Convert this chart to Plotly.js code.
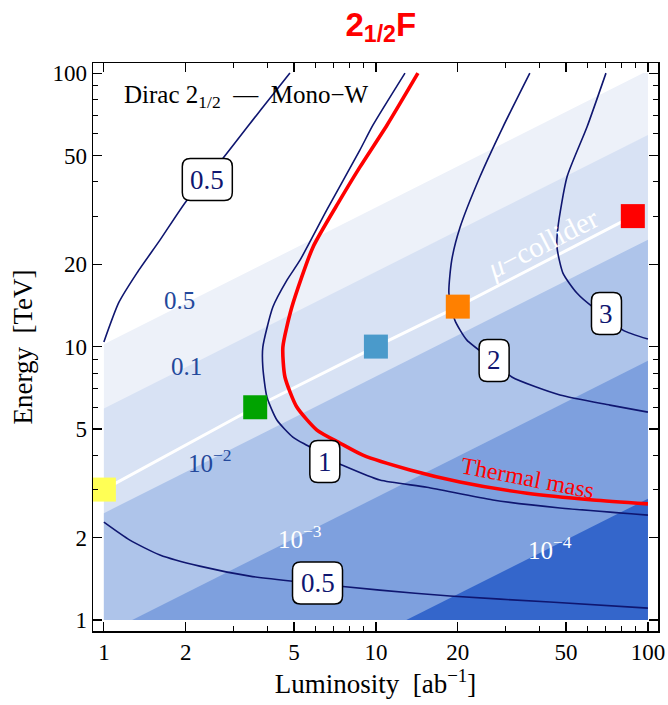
<!DOCTYPE html>
<html><head><meta charset="utf-8">
<script src="https://cdn.plot.ly/plotly-3.0.1.min.js"></script>
<style>html,body{margin:0;padding:0;background:#fff}#chart{width:668px;height:705px}</style>
</head><body><div id="chart"></div>
<script>
// ---------- data ----------
const tickVals = [1, 2, 5, 10, 20, 50, 100];
const tickText = ['1', '2', '5', '10', '20', '50', '100'];
const minorTickVals = [3, 4, 6, 7, 8, 9, 30, 40, 60, 70, 80, 90];

// shaded band boundaries (straight in log-log): energy at L=1 and at L=100
const bandNames = ['0.5', '0.1', '10<sup>−2</sup>', '10<sup>−3</sup>', '10<sup>−4</sup>'];
const bandEdgeAtL1 = [10.2, 5.94, 2.46, 0.887, 0.278];
const bandEdgeAtL100 = [102, 59.4, 24.6, 8.87, 2.78];
const bandLabelL = [1.90, 2.02, 2.45, 5.26, 43.6];
const bandLabelE = [14.8, 8.49, 3.81, 2.01, 1.83];

// contour lines (luminosity, energy)
const c05TopL = [4.83, 3.84, 2.45, 2.02, 1.607, 1.322, 1.135, 1.0];
const c05TopE = [100, 75.1, 42.4, 34.3, 24.5, 18.57, 14.5, 10.4];
const c1L = [12.79, 9.75, 8.73, 6.60, 5.26, 4.71, 4.18, 3.84, 3.84, 3.975, 4.325, 4.95, 5.72, 6.49, 7.50, 10.34, 15.40, 26.92, 47.5, 100];
const c1E = [100, 64.5, 52.3, 31.6, 20.7, 17.5, 13.95, 9.96, 8.41, 6.54, 5.39, 4.67, 4.29, 3.94, 3.69, 3.25, 3.06, 2.75, 2.57, 2.42];
const c2L = [36.8, 29.3, 24.1, 20.4, 19.0, 18.55, 19.5, 21.6, 27.4, 31.6, 47.5, 72.5, 100];
const c2E = [100, 63.5, 41.7, 27.35, 20.7, 15.7, 12.5, 10.56, 8.78, 7.74, 6.65, 6.11, 5.76];
const c3L = [70.1, 59.7, 50.4, 46.7, 46.3, 48.7, 54.8, 62.8, 70.7, 80.9, 100];
const c3E = [100, 63.5, 41.7, 27.35, 23.1, 18.57, 15.7, 13.95, 12.93, 11.49, 10.65];
const c05BotL = [1.0, 1.246, 1.607, 2.25, 3.44, 5.26, 10.34, 18.71, 43.6, 100];
const c05BotE = [2.28, 1.96, 1.73, 1.575, 1.448, 1.377, 1.287, 1.224, 1.164, 1.106];
// thermal mass
const thermalL = [14.27, 10.98, 8.73, 7.37, 5.87, 4.91, 4.55, 4.63, 5.12, 6.07, 7.37, 8.96, 13.34, 20.36, 35.9, 62.8, 100];
const thermalE = [100, 64.5, 45.3, 34.3, 23.1, 13.95, 9.96, 7.74, 6.01, 4.95, 4.44, 4.01, 3.54, 3.20, 2.91, 2.75, 2.66];

// contour labels
const contourText = ['0.5', '1', '2', '3', '0.5'];
const contourLabelL = [2.40, 6.49, 27.2, 70.4, 6.10];
const contourLabelE = [40.8, 3.80, 8.90, 13.2, 1.366];

// muon-collider benchmark points
const colliderL = [1, 3.6, 10, 20, 88];
const colliderE = [3, 6, 10, 14, 30];
const colliderColors = ['#ffff55', '#00a300', '#4a9acb', '#ff8000', '#ff0000'];

// ---------- styling ----------
const bandColors = ['#edf1f9', '#d8e2f4', '#aec4ea', '#7ea0de', '#3466cb'];
const NAVY = '#0f1670';
const XR = [-0.04, 2.037], YR = [-0.04, 2.037];
const xp = L => (Math.log10(L) - XR[0]) / (XR[1] - XR[0]);
const yp = E => (Math.log10(E) - YR[0]) / (YR[1] - YR[0]);

// clip polygon (log space) to the data box [0,2]x[0,2]
function clip(poly) {
  const edges = [
    [p => p[0] >= 0, (a, b) => { const t = (0 - a[0]) / (b[0] - a[0]); return [0, a[1] + t * (b[1] - a[1])]; }],
    [p => p[0] <= 2, (a, b) => { const t = (2 - a[0]) / (b[0] - a[0]); return [2, a[1] + t * (b[1] - a[1])]; }],
    [p => p[1] >= 0, (a, b) => { const t = (0 - a[1]) / (b[1] - a[1]); return [a[0] + t * (b[0] - a[0]), 0]; }],
    [p => p[1] <= 2, (a, b) => { const t = (2 - a[1]) / (b[1] - a[1]); return [a[0] + t * (b[0] - a[0]), 2]; }]
  ];
  let out = poly;
  for (const [inside, inter] of edges) {
    const inp = out; out = [];
    for (let i = 0; i < inp.length; i++) {
      const cur = inp[i], prev = inp[(i + inp.length - 1) % inp.length];
      if (inside(cur)) { if (!inside(prev)) out.push(inter(prev, cur)); out.push(cur); }
      else if (inside(prev)) out.push(inter(prev, cur));
    }
  }
  return out;
}

const traces = [];
bandEdgeAtL1.forEach((e1, i) => {
  const poly = clip([[0, Math.log10(e1)], [2, Math.log10(bandEdgeAtL100[i])], [2, -3], [0, -3]]);
  traces.push({
    type: 'scatter', mode: 'lines', fill: 'toself', fillcolor: bandColors[i],
    x: poly.map(p => Math.pow(10, p[0])), y: poly.map(p => Math.pow(10, p[1])),
    line: { width: 0, color: bandColors[i] }, hoverinfo: 'skip', showlegend: false
  });
});
// mu-collider line
traces.push({ type: 'scatter', mode: 'lines', x: colliderL, y: colliderE, line: { color: '#ffffff', width: 3 }, showlegend: false });
// contours
[[c05TopL, c05TopE], [c1L, c1E], [c2L, c2E], [c3L, c3E], [c05BotL, c05BotE]].forEach(([x, y]) => {
  traces.push({ type: 'scatter', mode: 'lines', x, y, line: { color: NAVY, width: 1.6, shape: 'spline', smoothing: 0.6 }, showlegend: false });
});
traces.push({ type: 'scatter', mode: 'lines', x: thermalL, y: thermalE, line: { color: '#ff0000', width: 3.6, shape: 'spline', smoothing: 0.6 }, showlegend: false });
// benchmark squares
traces.push({ type: 'scatter', mode: 'markers', x: colliderL, y: colliderE, cliponaxis: false,
  marker: { symbol: 'square', size: 24, color: colliderColors, line: { width: 0 } }, showlegend: false });

const serif = 'Liberation Serif, Times New Roman, serif';
const annotations = [];
const shapes = [];
const ann = (o) => annotations.push(Object.assign({ xref: 'paper', yref: 'paper', xanchor: 'center', yanchor: 'middle', showarrow: false }, o));
bandNames.forEach((t, i) => {
  ann({ x: xp(bandLabelL[i]), y: yp(bandLabelE[i]), text: t,
    font: { family: serif, size: 25, color: i < 3 ? '#23489b' : '#ffffff' } });
});
contourText.forEach((t, i) => {
  const w = t.length > 1 ? 25 : 15, h = 21, r = 8;
  shapes.push({ type: 'path', xref: 'paper', yref: 'paper', xsizemode: 'pixel', ysizemode: 'pixel',
    xanchor: xp(contourLabelL[i]), yanchor: yp(contourLabelE[i]), layer: 'above',
    path: `M ${-w + r},${-h} L ${w - r},${-h} Q ${w},${-h} ${w},${-h + r} L ${w},${h - r} Q ${w},${h} ${w - r},${h} L ${-w + r},${h} Q ${-w},${h} ${-w},${h - r} L ${-w},${-h + r} Q ${-w},${-h} ${-w + r},${-h} Z`,
    fillcolor: '#ffffff', line: { color: '#000000', width: 1.5 } });
  ann({ x: xp(contourLabelL[i]), y: yp(contourLabelE[i]), text: t,
    font: { family: serif, size: 27, color: NAVY } });
});
ann({ x: 0.051, y: 0.941, xanchor: 'left', text: 'Dirac 2<sub>1/2</sub>  —  Mono−W',
  font: { family: serif, size: 25, color: '#000000' } });
ann({ x: xp(41.1), y: yp(23.9), text: '<i>μ</i>−collider', textangle: -27,
  font: { family: serif, size: 29, color: '#ffffff' } });
ann({ x: xp(36.2), y: yp(3.31), text: 'Thermal mass', textangle: 11,
  font: { family: serif, size: 24, color: '#ff0000' } });

const axisCommon = {
  type: 'log', tickmode: 'array', tickvals: tickVals, ticktext: tickText,
  ticks: 'inside', ticklen: 9, tickwidth: 1.2, tickcolor: '#000',
  showline: true, linecolor: '#000', linewidth: 1.5, mirror: 'ticks',
  showgrid: false, zeroline: false,
  tickfont: { family: serif, size: 23, color: '#000' },
  minor: { tickmode: 'array', tickvals: minorTickVals, ticks: 'inside', ticklen: 5, tickwidth: 1, tickcolor: '#000', showgrid: false }
};

const layout = {
  width: 668, height: 705,
  margin: { l: 93, r: 10, t: 63, b: 74 },
  paper_bgcolor: '#ffffff', plot_bgcolor: '#ffffff',
  title: { text: '<b>2<sub>1/2</sub>F</b>', x: 0.57, xanchor: 'center', y: 0.966, yanchor: 'middle',
    font: { family: 'Liberation Sans, Arial, sans-serif', size: 33, color: '#ff0000' } },
  xaxis: Object.assign({}, axisCommon, { range: XR,
    title: { text: 'Luminosity  [ab<sup>−1</sup>]', standoff: 10, font: { family: serif, size: 27, color: '#000' } } }),
  yaxis: Object.assign({}, axisCommon, { range: YR,
    title: { text: 'Energy  [TeV]', standoff: 12, font: { family: serif, size: 27, color: '#000' } } }),
  shapes, annotations, showlegend: false, hovermode: false
};

Plotly.newPlot('chart', traces, layout, { displayModeBar: false, staticPlot: true });
</script>
</body></html>
